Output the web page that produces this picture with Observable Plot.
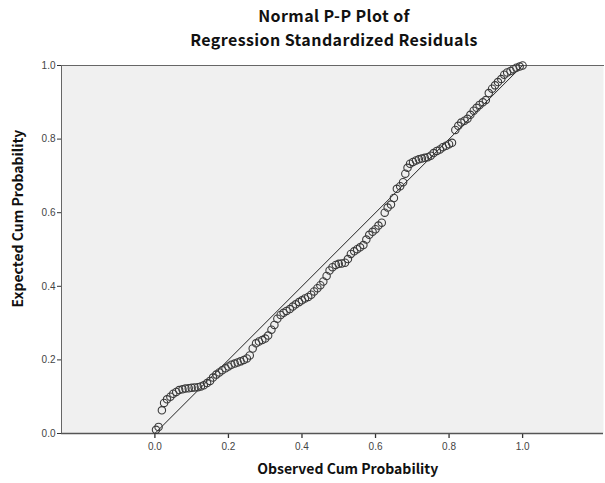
<!DOCTYPE html>
<html>
<head>
<meta charset="utf-8">
<script src="https://cdn.jsdelivr.net/npm/d3@7"></script>
<script src="https://cdn.jsdelivr.net/npm/@observablehq/plot@0.6"></script>
<style>
  body { margin: 0; background: #fff; font-family: "Noto Sans CJK KR", "Noto Sans", sans-serif; }
  #wrap { width: 605px; }
  #title { position: relative; height: 52px; width: 605px; }
  #title div { position: absolute; left: 0; width: 668px; text-align: center; font-weight: bold; font-size: 16px; letter-spacing: 0.4px; color: #111; line-height: 20px; }
</style>
</head>
<body>
<div id="wrap">
  <div id="title">
    <div style="top:5px">Normal P-P Plot of</div>
    <div style="top:29px">Regression Standardized Residuals</div>
  </div>
  <div id="chart"></div>
</div>
<script>
const observed = [
  0.003,0.010,0.019,0.025,0.033,0.042,0.050,0.058,0.066,0.075,
  0.083,0.092,0.100,0.108,0.117,0.125,0.133,0.142,0.150,0.158,
  0.167,0.175,0.183,0.192,0.200,0.208,0.217,0.225,0.233,0.242,
  0.250,0.258,0.266,0.275,0.283,0.292,0.300,0.308,0.317,0.325,
  0.333,0.342,0.350,0.358,0.367,0.375,0.383,0.392,0.400,0.408,
  0.417,0.425,0.433,0.442,0.450,0.458,0.467,0.475,0.483,0.492,
  0.500,0.508,0.517,0.525,0.533,0.542,0.550,0.558,0.567,0.575,
  0.583,0.592,0.600,0.608,0.617,0.625,0.633,0.642,0.650,0.658,
  0.667,0.675,0.681,0.687,0.694,0.702,0.710,0.718,0.726,0.734,
  0.742,0.750,0.758,0.767,0.775,0.783,0.792,0.800,0.808,0.817,
  0.825,0.833,0.842,0.850,0.858,0.867,0.875,0.883,0.892,0.900,
  0.908,0.917,0.925,0.933,0.942,0.950,0.958,0.967,0.975,0.983,
  0.992,1.000
];
const expected = [
  0.010,0.018,0.063,0.083,0.093,0.100,0.108,0.113,0.118,0.120,
  0.122,0.123,0.124,0.125,0.126,0.128,0.131,0.137,0.143,0.152,
  0.160,0.166,0.172,0.177,0.182,0.187,0.190,0.193,0.196,0.200,
  0.204,0.212,0.231,0.245,0.250,0.254,0.258,0.266,0.282,0.295,
  0.312,0.322,0.328,0.333,0.338,0.345,0.351,0.357,0.362,0.367,
  0.371,0.377,0.386,0.395,0.403,0.413,0.428,0.443,0.452,0.458,
  0.461,0.462,0.464,0.474,0.488,0.495,0.501,0.506,0.512,0.527,
  0.540,0.548,0.555,0.565,0.573,0.600,0.614,0.622,0.640,0.665,
  0.672,0.683,0.706,0.722,0.733,0.738,0.742,0.745,0.747,0.749,
  0.751,0.755,0.762,0.768,0.772,0.778,0.782,0.786,0.790,0.825,
  0.836,0.845,0.850,0.855,0.866,0.877,0.885,0.893,0.900,0.906,
  0.925,0.937,0.946,0.955,0.963,0.975,0.981,0.985,0.990,0.994,
  0.997,1.000
];
const xTicks = [0, 0.2, 0.4, 0.6, 0.8, 1.0];
const yTicks = [0, 0.2, 0.4, 0.6, 0.8, 1.0];
const refLine = [0, 1];
const xLabel = "Observed Cum Probability";
const yLabel = "Expected Cum Probability";

const points = observed.map((x, i) => ({x, y: expected[i]}));
const lblFont = "'Noto Sans CJK KR', 'Noto Sans', sans-serif";

const chart = Plot.plot({
  width: 605,
  height: 431,
  marginTop: 13,
  marginBottom: 50,
  marginLeft: 61,
  marginRight: 2,
  style: {fontFamily: "'Liberation Sans', Arial, sans-serif", fontSize: "10px", color: "#444", background: "#fff"},
  x: {domain: [-0.254, 1.22]},
  y: {domain: [0, 1]},
  marks: [
    Plot.frame({fill: "#f0f0f0", stroke: null}),
    Plot.frame({anchor: "top", stroke: "#666"}),
    Plot.axisX({ticks: xTicks, tickFormat: d3.format(".1f"), tickSize: 5, tickPadding: 4, label: null, stroke: "#333", strokeWidth: 1.3}),
    Plot.axisY({ticks: yTicks, tickFormat: d3.format(".1f"), tickSize: 4, tickPadding: 2, label: null, stroke: "#333"}),
    Plot.ruleY([0], {stroke: "#555", strokeWidth: 1.5}),
    Plot.ruleX([-0.254], {stroke: "#666", strokeWidth: 1}),
    Plot.line(refLine, {x: d => d, y: d => d, stroke: "#222", strokeWidth: 1}),
    Plot.dot(points, {x: "x", y: "y", r: 3.7, stroke: "#3a3a3a", strokeWidth: 1.1, fill: "none"}),
    Plot.text([xLabel], {x: [(347 - 154) / 368], frameAnchor: "bottom", dy: 40, text: d => d, fontFamily: lblFont, fontWeight: "bold", fontSize: 14, fill: "#111"}),
    Plot.text([yLabel], {y: [(433 - 218) / 368], frameAnchor: "left", textAnchor: "middle", dx: -43, rotate: -90, text: d => d, fontFamily: lblFont, fontWeight: "bold", fontSize: 14, fill: "#111"})
  ]
});
document.getElementById("chart").appendChild(chart);
</script>
</body>
</html>
